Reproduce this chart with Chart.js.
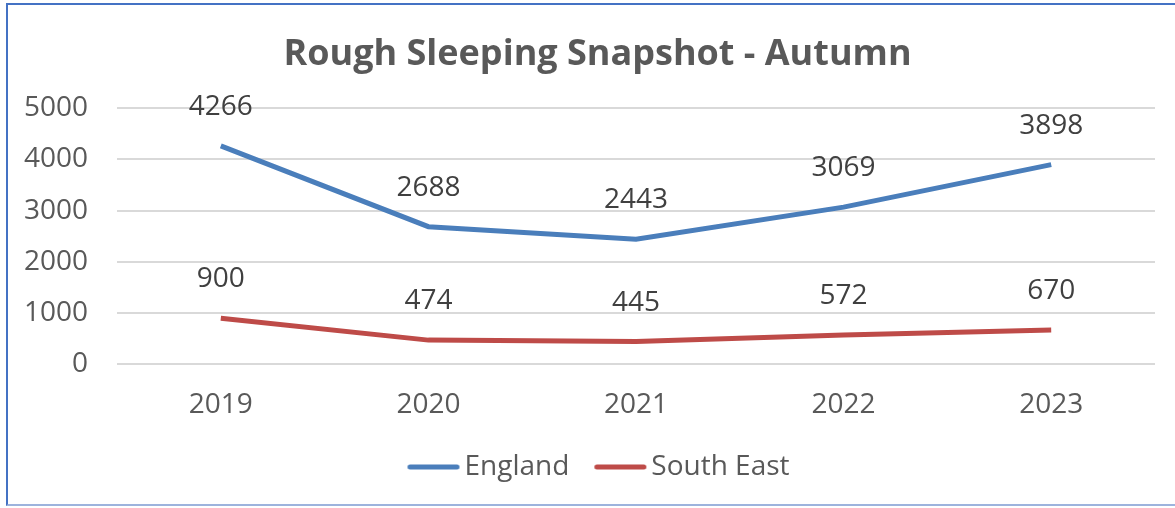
<!DOCTYPE html>
<html>
<head>
<meta charset="utf-8">
<script src="https://cdn.jsdelivr.net/npm/chart.js@4/dist/chart.umd.min.js"></script>
<style>
  html, body { margin: 0; padding: 0; background: #fff; }
  #frame {
    position: absolute; left: 6px; top: 3px; width: 1175px; height: 503px;
    border-left: 2px solid #4472c4; border-top: 2px solid #4472c4;
    border-bottom: 2px solid #9db3dd; box-sizing: border-box;
  }
  #wrap { position: absolute; left: 0; top: 0; width: 1175px; height: 508px; }
</style>
</head>
<body>
<div id="frame"></div>
<div id="wrap"><canvas id="LineChart" width="1175" height="508"></canvas></div>
<script>
const years = ["2019", "2020", "2021", "2022", "2023"]
const england = [4266, 2688, 2443, 3069, 3898]
const southEast = [900, 474, 445, 572, 670]
const yTicks = [0, 1000, 2000, 3000, 4000, 5000]

const font = "'Open Sans', 'Noto Sans', sans-serif"
const blue = "#4a7ebb"
const red = "#be4b48"

// legend swatch: short thick line with round ends
const swatch = (color) => {
	const c = document.createElement("canvas")
	c.width = 60
	c.height = 8
	const g = c.getContext("2d")
	g.strokeStyle = color
	g.lineWidth = 5
	g.lineCap = "round"
	g.beginPath()
	g.moveTo(6.5, 4)
	g.lineTo(53.5, 4)
	g.stroke()
	return c
}

// value labels above each point
const pointLabels = {
	id: "pointLabels",
	afterDatasetsDraw(chart) {
		const ctx = chart.ctx
		ctx.save()
		ctx.font = "28px " + font
		ctx.fillStyle = "#404040"
		ctx.textAlign = "center"
		ctx.textBaseline = "middle"
		chart.data.datasets.forEach((ds, i) => {
			chart.getDatasetMeta(i).data.forEach((pt, j) => {
				ctx.fillText(String(ds.data[j]), pt.x, pt.y - 39)
			})
		})
		ctx.restore()
	},
}

// title and legend are centred on the whole frame, which runs past the right edge
const nudge = {
	id: "nudge",
	beforeDraw(chart) {
		if (chart.titleBlock) chart.titleBlock.left = 40
		if (chart.legend) {
			chart.legend.left = 51
			chart.legend.top = chart.legend._baseTop - 17
		}
	},
	afterLayout(chart) {
		if (chart.legend) chart.legend._baseTop = chart.legend.top
	},
}

new Chart(document.getElementById("LineChart"), {
	type: "line",
	data: {
		labels: years,
		datasets: [
			{
				label: "England",
				data: england,
				borderColor: blue,
				backgroundColor: blue,
				borderWidth: 5,
				pointRadius: 0,
				pointStyle: swatch(blue),
				tension: 0,
			},
			{
				label: "South East",
				data: southEast,
				borderColor: red,
				backgroundColor: red,
				borderWidth: 5,
				pointRadius: 0,
				pointStyle: swatch(red),
				tension: 0,
			},
		],
	},
	options: {
		responsive: false,
		animation: false,
		devicePixelRatio: 1,
		layout: { padding: { left: 0, right: 20, top: 0, bottom: 0 } },
		scales: {
			x: {
				offset: true,
				grid: { display: false },
				border: { display: false },
				afterFit: (s) => { s.height -= 2 },
				ticks: { color: "#595959", font: { family: font, size: 28 }, padding: 16 },
			},
			y: {
				min: 0,
				max: 5000,
				afterBuildTicks: (s) => { s.ticks = yTicks.map((v) => ({ value: v })) },
				afterFit: (s) => { s.width = 117 },
				grid: { color: "#d9d9d9", lineWidth: 2, drawTicks: false },
				border: { display: false },
				ticks: {
					color: "#595959",
					font: { family: font, size: 28 },
					padding: 29,
					callback: (v) => String(v),
				},
			},
		},
		plugins: {
			title: {
				display: true,
				text: "Rough Sleeping Snapshot - Autumn",
				color: "#595959",
				font: { family: font, size: 36, weight: "bold" },
				padding: { top: 33, bottom: 32 },
			},
			legend: {
				position: "bottom",
				labels: {
					usePointStyle: true,
					pointStyleWidth: 34,
					boxHeight: 8,
					color: "#595959",
					font: { family: font, size: 28 },
					padding: 34,
				},
			},
			tooltip: { enabled: false },
		},
	},
	plugins: [pointLabels, nudge],
})
</script>
</body>
</html>
